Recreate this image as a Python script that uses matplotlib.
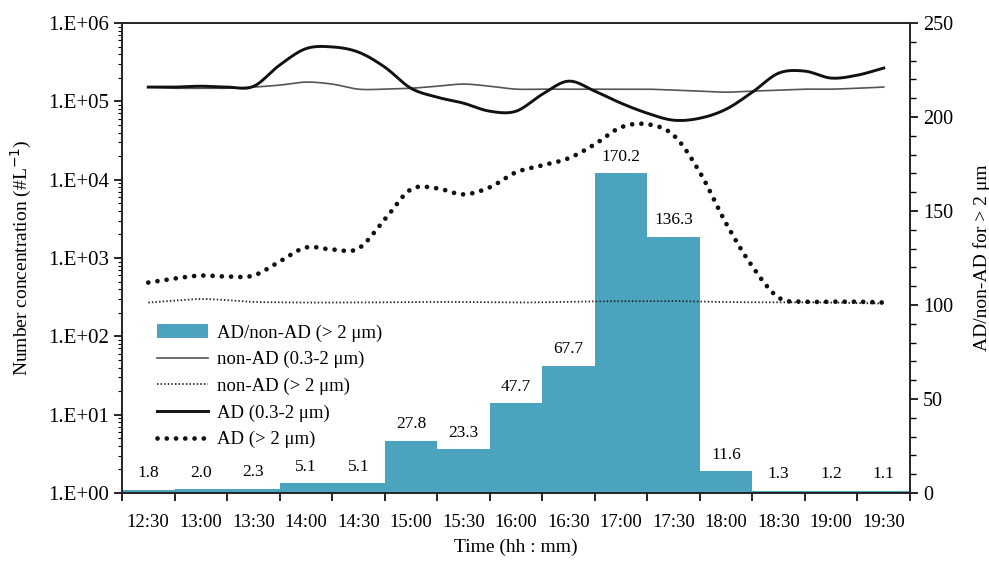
import numpy as np
import matplotlib
matplotlib.use("Agg")
import matplotlib.pyplot as plt
from matplotlib.ticker import FixedLocator, FuncFormatter, MultipleLocator, LogLocator, NullFormatter
from matplotlib.patches import Patch
from matplotlib.lines import Line2D

plt.rcParams['font.family'] = ['Liberation Serif', 'DejaVu Serif']

# ---------------- data ----------------
time_labels = ["12:30", "13:00", "13:30", "14:00", "14:30", "15:00", "15:30", "16:00",
               "16:30", "17:00", "17:30", "18:00", "18:30", "19:00", "19:30"]
ratio_gt2 = [1.8, 2.0, 2.3, 5.1, 5.1, 27.8, 23.3, 47.7, 67.7, 170.2, 136.3, 11.6, 1.3, 1.2, 1.1]

# 15-min readings from 12:30 to 19:30 (#/L)
nonad_fine = [1.52e5, 1.47e5, 1.47e5, 1.47e5, 1.52e5, 1.61e5, 1.76e5, 1.66e5, 1.43e5, 1.43e5,
              1.47e5, 1.56e5, 1.66e5, 1.56e5, 1.43e5, 1.43e5, 1.43e5, 1.43e5, 1.43e5, 1.43e5,
              1.39e5, 1.35e5, 1.31e5, 1.35e5, 1.39e5, 1.43e5, 1.43e5, 1.47e5, 1.52e5]
nonad_coarse = [270, 285, 300, 290, 275, 272, 270, 270, 270, 272, 273, 275, 274, 272, 270,
                272, 276, 280, 280, 280, 282, 278, 274, 272, 272, 272, 270, 265, 262]
ad_fine = [1.52e5, 1.52e5, 1.56e5, 1.52e5, 1.55e5, 2.9e5, 4.7e5, 4.95e5, 4.25e5, 2.74e5,
           1.47e5, 1.13e5, 9.47e4, 7.48e4, 7.48e4, 1.23e5, 1.81e5, 1.35e5, 9.47e4, 7.05e4,
           5.74e4, 6.09e4, 7.94e4, 1.31e5, 2.29e5, 2.43e5, 1.98e5, 2.16e5, 2.66e5]
ad_coarse = [486, 547, 597, 580, 597, 902, 1362, 1285, 1322, 3105, 7516, 7745, 6487, 7980,
             12410, 15250, 18740, 28300, 46700, 51000, 36900, 12400, 2760, 778, 312, 277,
             277, 277, 270]

x_bins = np.arange(len(time_labels))
x_lines = np.arange(len(ad_fine)) * 0.5


def smooth_log(x, y, n=12):
    """Catmull-Rom curve through the points (in log space) for drawing."""
    x = np.asarray(x, float)
    ly = np.log10(np.asarray(y, float))
    px = np.concatenate([[2 * x[0] - x[1]], x, [2 * x[-1] - x[-2]]])
    py = np.concatenate([[2 * ly[0] - ly[1]], ly, [2 * ly[-1] - ly[-2]]])
    xs, ys = [], []
    t = np.linspace(0, 1, n, endpoint=False)
    for i in range(1, len(px) - 2):
        for arr, out in ((px, xs), (py, ys)):
            p0, p1, p2, p3 = arr[i - 1], arr[i], arr[i + 1], arr[i + 2]
            out.extend(0.5 * ((2 * p1) + (-p0 + p2) * t +
                              (2 * p0 - 5 * p1 + 4 * p2 - p3) * t ** 2 +
                              (-p0 + 3 * p1 - 3 * p2 + p3) * t ** 3))
    xs.append(x[-1]); ys.append(ly[-1])
    return np.array(xs), 10 ** np.array(ys)


fig = plt.figure(figsize=(9.89, 5.63), dpi=100)
ax1 = fig.add_axes([122 / 989, 70 / 563, 788 / 989, 470 / 563])
ax2 = ax1.twinx()
ax1.set_zorder(ax2.get_zorder() + 1)
ax1.patch.set_visible(False)

bar_color = "#4ba3bd"
ax2.bar(x_bins, ratio_gt2, width=1.0, color=bar_color, edgecolor="none", zorder=1)
for xi, v in zip(x_bins, ratio_gt2):
    ax2.text(xi, v + 4.5, f"{v:.1f}", ha="center", va="bottom", fontsize=12.5)
ax2.set_ylim(0, 250)
ax2.yaxis.set_major_locator(MultipleLocator(50))
ax2.yaxis.set_minor_locator(MultipleLocator(10))
ax2.set_ylabel("AD/non-AD for > 2 μm", fontsize=14, labelpad=14)

sx, sy = smooth_log(x_lines, nonad_fine)
ax1.plot(sx, sy, color="#555555", lw=1.2)
sx, sy = smooth_log(x_lines, nonad_coarse)
ax1.plot(sx, sy, color="#222222", lw=1.3, linestyle=(0, (0.8, 1.2)))
sx, sy = smooth_log(x_lines, ad_fine)
ax1.plot(sx, sy, color="#111111", lw=2.1)
sx, sy = smooth_log(x_lines, ad_coarse)
ax1.plot(sx, sy, color="#111111", lw=3.4, linestyle=(0, (0.01, 1.95)),
         dash_capstyle="round")

ax1.set_yscale("log")
ax1.set_ylim(1, 1e6)
ax1.set_xlim(-0.5, len(time_labels) - 0.5)
ax1.yaxis.set_major_locator(LogLocator(base=10, numticks=10))
ax1.yaxis.set_minor_locator(LogLocator(base=10, subs=np.arange(2, 10), numticks=20))
ax1.yaxis.set_minor_formatter(NullFormatter())
ax1.yaxis.set_major_formatter(FuncFormatter(lambda v, p: f"1.E+{int(round(np.log10(v))):02d}"))
ax1.set_ylabel("Number concentration (#L$^{-1}$)", fontsize=14, labelpad=10)

# x axis: ticks at bin edges, labels centred
ax1.xaxis.set_major_locator(FixedLocator(np.arange(-0.5, len(time_labels), 1.0)))
ax1.xaxis.set_major_formatter(NullFormatter())
ax1.xaxis.set_minor_locator(FixedLocator(x_bins))
ax1.set_xticklabels(time_labels, minor=True)
ax1.tick_params(axis="x", which="minor", length=0, labelsize=13.5, pad=15)
ax1.tick_params(axis="x", which="major", length=6, width=1.2, direction="out")
ax1.set_xlabel("Time (hh : mm)", fontsize=14, labelpad=6)

ax1.tick_params(axis="y", which="major", length=6, width=1.2, labelsize=15, direction="out")
ax1.tick_params(axis="y", which="minor", length=3, width=0.8, direction="out")
ax2.tick_params(axis="y", which="major", length=6, width=1.2, labelsize=14.5, direction="out")
ax2.tick_params(axis="y", which="minor", length=4, width=1.0, direction="out")

for ax in (ax1, ax2):
    for s in ax.spines.values():
        s.set_linewidth(1.2)
        s.set_color("#222222")

handles = [
    Patch(facecolor=bar_color, edgecolor="none"),
    Line2D([], [], color="#555555", lw=1.2),
    Line2D([], [], color="#222222", lw=1.3, linestyle=(0, (0.8, 1.2))),
    Line2D([], [], color="#111111", lw=2.1),
    Line2D([], [], color="#111111", lw=3.4, linestyle=(0, (0.01, 1.95)), dash_capstyle="round"),
]
labels = ["AD/non-AD (> 2 μm)", "non-AD (0.3-2 μm)", "non-AD (> 2 μm)",
          "AD (0.3-2 μm)", "AD (> 2 μm)"]
ax1.legend(handles, labels, loc="upper left", bbox_to_anchor=(0.035, 0.375), frameon=False,
           fontsize=13.5, handlelength=2.7, handletextpad=0.5, labelspacing=0.5,
           borderaxespad=0)

fig.savefig("out.png", dpi=100)
